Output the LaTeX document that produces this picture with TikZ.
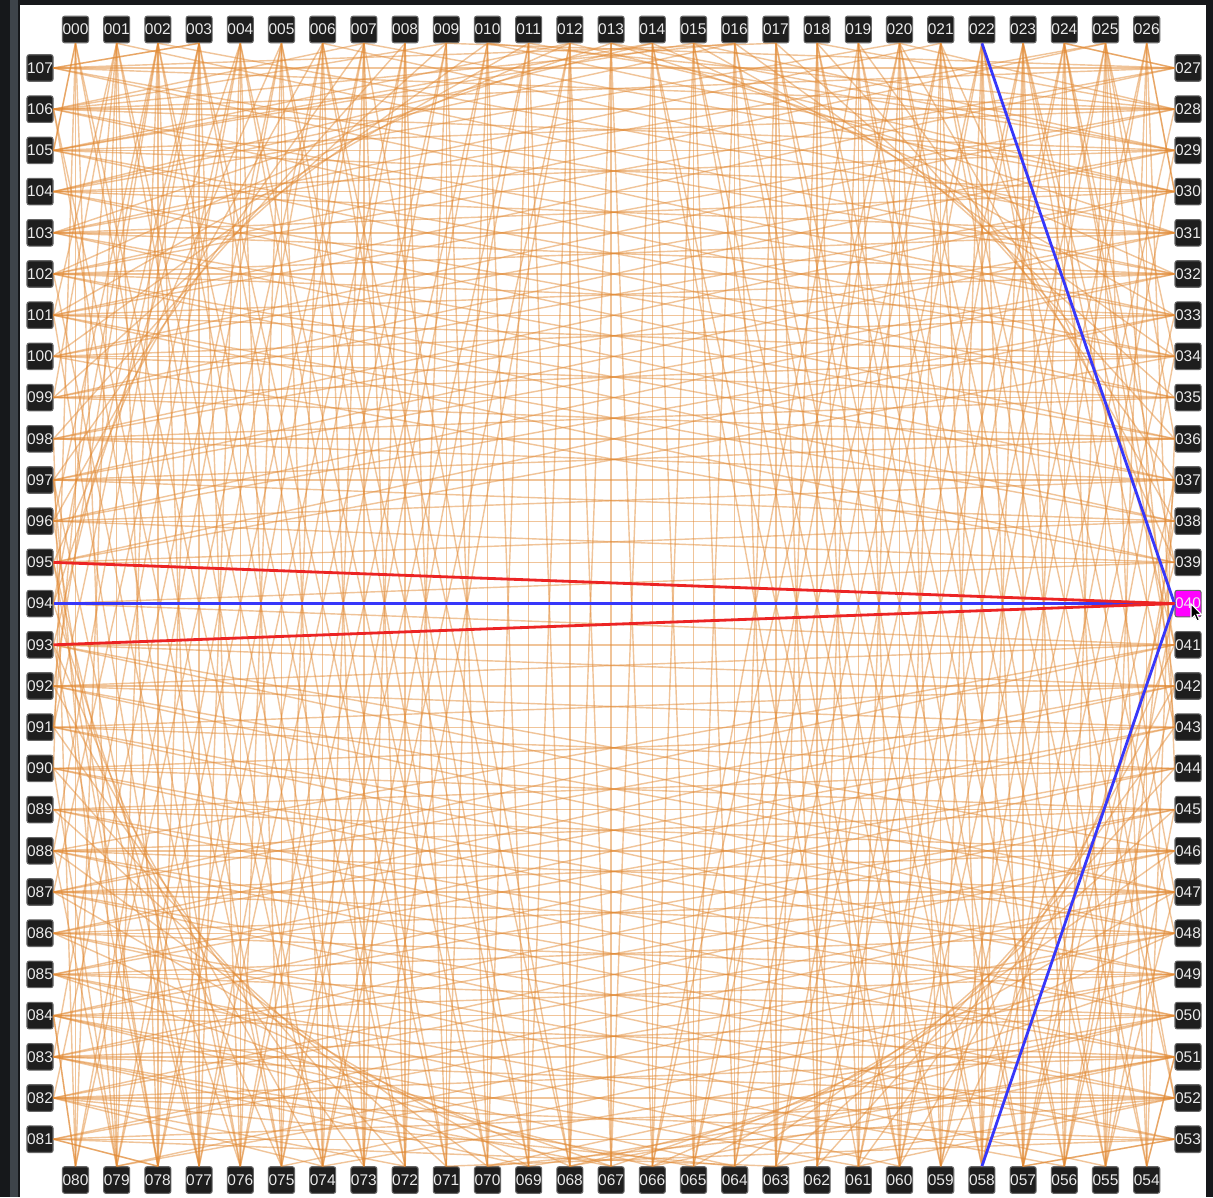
\documentclass[tikz,border=0pt]{standalone}
\usepackage{fontspec}
\newfontfamily\pinfont{Liberation Sans}
\definecolor{backdrop}{RGB}{22,24,27}
\definecolor{railgray}{RGB}{62,68,74}
\definecolor{pinfill}{RGB}{30,30,30}
\definecolor{wirecol}{RGB}{226,138,52}
\definecolor{hotblue}{RGB}{55,55,250}
\definecolor{hotred}{RGB}{236,36,36}
\definecolor{hotpin}{RGB}{255,0,255}
\newcommand\pinlabel[1]{\ifnum#1<10 00#1\else\ifnum#1<100 0#1\else#1\fi\fi}

\begin{document}
\begin{tikzpicture}[x=0.01cm, y=-0.01cm,
    pinbox/.style={rectangle, fill=pinfill, draw=black!60, line width=0.3pt,
      rounded corners=0.6pt, inner sep=0pt, minimum width=0.26cm,
      minimum height=0.265cm, text=white!92!black,
      font=\pinfont\fontsize{4.4}{5}\selectfont},
    wireline/.style={draw=wirecol, line width=0.4pt, draw opacity=0.5},
    hotline/.style={draw=hotblue, line width=0.8pt},
    nearline/.style={draw=hotred, line width=0.8pt}
  ]
  \useasboundingbox (0,0) rectangle (1213,1197);

  % ===== backdrop and white panel =====
  \fill[backdrop] (0,0) rectangle (1213,1197);
  \fill[railgray] (10,0) rectangle (18,1197);
  \fill[white] (20,5) rectangle (1206,1197);

  % ===== pins: top 000-026 =====
  \foreach \kk in {0,...,26}{
    \node[pinbox] (n\kk) at ({75.5+41.2*\kk}, 29.5) {\pinlabel{\kk}};
    \coordinate (a\kk) at (n\kk.south);
  }
  % ===== pins: right 027-053 =====
  \foreach \kk in {0,...,26}{
    \pgfmathtruncatemacro\id{27+\kk}
    \ifnum\id=40 \def\boxfill{hotpin}\else\def\boxfill{pinfill}\fi
    \node[pinbox, fill=\boxfill] (n\id) at (1188, {68+41.2*\kk}) {\pinlabel{\id}};
    \coordinate (a\id) at (n\id.west);
  }
  % ===== pins: bottom 054-080, right to left =====
  \foreach \kk in {0,...,26}{
    \pgfmathtruncatemacro\id{54+\kk}
    \node[pinbox] (n\id) at ({75.5+41.2*(26-\kk)}, 1180) {\pinlabel{\id}};
    \coordinate (a\id) at (n\id.north);
  }
  % ===== pins: left 081-107, bottom to top =====
  \foreach \kk in {0,...,26}{
    \pgfmathtruncatemacro\id{81+\kk}
    \node[pinbox] (n\id) at (40, {68+41.2*(26-\kk)}) {\pinlabel{\id}};
    \coordinate (a\id) at (n\id.east);
  }

  % ===== wires across the square (straight and one step off) =====
  \foreach \p in {0,...,26}{
    \foreach \dd in {-1,0,1}{
      \pgfmathtruncatemacro\q{26-\p-\dd}
      \ifnum\q>-1 \ifnum\q<27
        \foreach \s in {0,1}{
          \pgfmathtruncatemacro\src{27*\s+\p}
          \pgfmathtruncatemacro\dst{27*\s+54+\q}
          \draw[wireline] (a\src) -- (a\dst);
        }
      \fi\fi
    }
  }

  % ===== wires hopping 18 pins onto the next side =====
  \foreach \p in {9,...,26}{
    \foreach \s in {0,1,2,3}{
      \pgfmathtruncatemacro\src{27*\s+\p}
      \pgfmathtruncatemacro\dst{mod(\src+18,108)}
      \draw[wireline] (a\src) -- (a\dst);
    }
  }

  % ===== wire pairs fanning away from the middle of each side =====
  \foreach \p in {0,...,12,14,15,...,26}{
    \foreach \sh in {5,6}{
      \pgfmathtruncatemacro\vi{\p+\sh*sign(\p-13)}
      \pgfmathsetmacro\xs{75.5+41.2*\p}
      \pgfmathsetmacro\xu{75.5+41.2*\vi}
      \pgfmathsetmacro\xw{\vi<0 ? 53 : 1175}
      \pgfmathsetmacro\fr{(\xw-\xs)/(\xu-\xs)}
      \pgfmathtruncatemacro\hit{max(0,min(26,round((1124*\fr-25)/41.2)))}
      \pgfmathtruncatemacro\ds{\vi<0 ? 3 : (\vi>26 ? 1 : 2)}
      \pgfmathtruncatemacro\q{\vi<0 ? 26-\hit : (\vi>26 ? \hit : 26-\vi)}
      \foreach \s in {0,1,2,3}{
        \pgfmathtruncatemacro\src{27*\s+\p}
        \pgfmathtruncatemacro\dst{mod(27*(\s+\ds)+\q,108)}
        \draw[wireline] (a\src) -- (a\dst);
      }
    }
  }

  % ===== the selected pin 040 and its wires =====
  \draw[hotline] (a40) -- (a22);
  \draw[hotline] (a40) -- (a58);
  \draw[hotline] (a40) -- (a94);
  \draw[nearline] (a40) -- (a93);
  \draw[nearline] (a40) -- (a95);

  % mouse pointer on 040
  \filldraw[fill=black, draw=white, line width=0.3pt]
    (1191,604) -- (1191,619) -- (1194.5,615.5) -- (1197,621) -- (1199.5,620)
    -- (1197,614.5) -- (1201.5,614.5) -- cycle;
\end{tikzpicture}
\end{document}
